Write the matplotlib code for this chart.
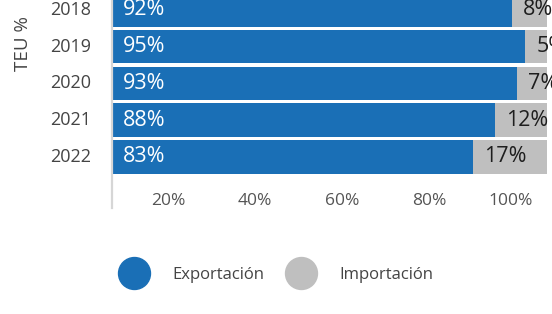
import matplotlib.pyplot as plt
from matplotlib.lines import Line2D
from matplotlib.transforms import ScaledTranslation

plt.rcParams['font.family'] = ['Open Sans', 'DejaVu Sans']

years = ['2018', '2019', '2020', '2021', '2022']
exportacion = [92, 95, 93, 88, 83]
importacion = [8, 5, 7, 12, 17]
xticks = [20, 40, 60, 80, 100]
xtick_labels = ['20%', '40%', '60%', '80%', '100%']

BLUE = '#1a6fb6'
GREY = '#bfbfbf'

W, H = 552, 314
fig = plt.figure(figsize=(W / 100, H / 100), dpi=100)
ax = fig.add_axes([112 / W, 1 - 208 / H, 435 / W, 208 / H])

ypos = list(range(len(years)))
ax.barh(ypos, exportacion, height=0.91, color=BLUE)
ax.barh(ypos, importacion, left=exportacion, height=0.91, color=GREY)

# value labels, left-aligned inside each segment
for i in ypos:
    ax.annotate(f'{exportacion[i]}%', (0, i), xytext=(11, 0), textcoords='offset pixels',
                ha='left', va='center', color='white', fontsize=15.5, annotation_clip=False)
    ax.annotate(f'{importacion[i]}%', (exportacion[i], i), xytext=(11, 0), textcoords='offset pixels',
                ha='left', va='center', color='#1e1e1e', fontsize=15.5, annotation_clip=False)

ax.set_xlim(0, 100)
ax.set_ylim(5.39, -0.27)

for s in ['top', 'right', 'bottom']:
    ax.spines[s].set_visible(False)
ax.spines['left'].set_color('#d6d6d6')
ax.spines['left'].set_linewidth(1.6)

ax.set_yticks(ypos, years)
ax.tick_params(axis='y', length=0, pad=15, labelsize=13, labelcolor='#444444')
up = ScaledTranslation(0, 2 / 100, fig.dpi_scale_trans)
for lab in ax.get_yticklabels():
    lab.set_transform(lab.get_transform() + up)

ax.set_xticks(xticks, xtick_labels)
ax.tick_params(axis='x', length=0, pad=-11, labelsize=12.5, labelcolor='#555555')
shift = ScaledTranslation(-14 / 100, 0, fig.dpi_scale_trans)
for lab in ax.get_xticklabels():
    lab.set_horizontalalignment('right')
    lab.set_transform(lab.get_transform() + shift)

fig.text(23 / W, 1 - 44 / H, 'TEU %', rotation=90, ha='center', va='center',
         fontsize=13.5, color='#444444')

handles = [Line2D([], [], marker='o', linestyle='none', markersize=23, color=BLUE),
           Line2D([], [], marker='o', linestyle='none', markersize=23, color=GREY)]
fig.legend(handles, ['Exportación', 'Importación'], loc='center left',
           bbox_to_anchor=(117 / W, 1 - 275 / H), ncol=2, frameon=False,
           fontsize=12, labelcolor='#444444', handlelength=2, handletextpad=1.3,
           columnspacing=1.2, borderpad=0, borderaxespad=0)

fig.savefig('out.png', dpi=100)
